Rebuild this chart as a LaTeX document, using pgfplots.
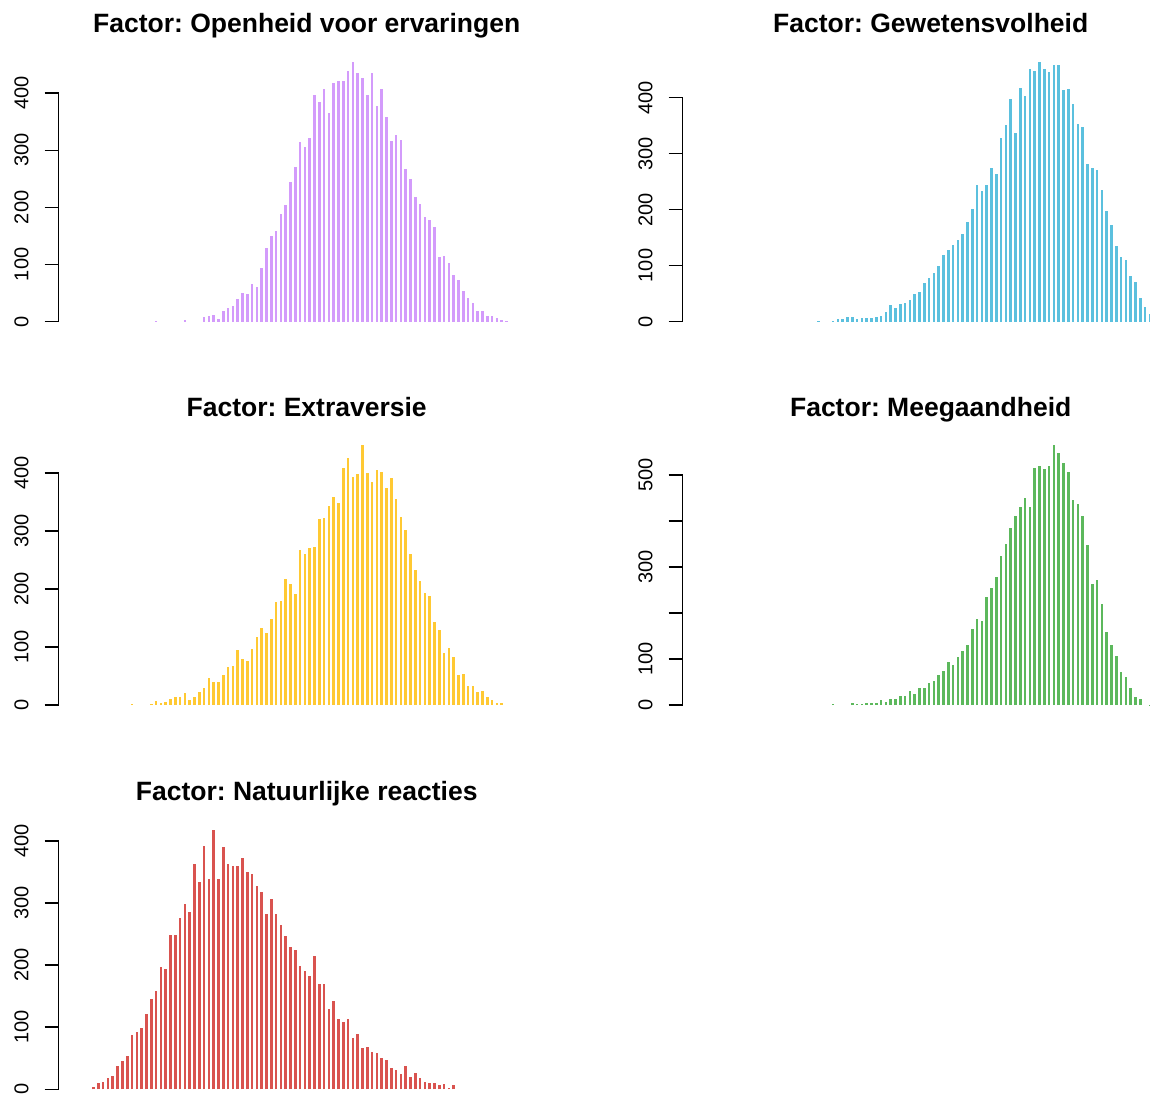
\documentclass[border=0pt]{standalone}
\usepackage{pgfplots}
\pgfplotsset{compat=1.18}
\usepackage{fontspec}
\setmainfont{Liberation Sans}
\frenchspacing
\definecolor{cpurple}{HTML}{D39BFB}
\definecolor{cblue}{HTML}{5BC0DE}
\definecolor{cyellow}{HTML}{FFC933}
\definecolor{cgreen}{HTML}{5CB85C}
\definecolor{cred}{HTML}{D9534F}
\pgfplotsset{
  panel/.style={
    scale only axis, width=248pt, height=140.25pt,
    anchor=south west, clip=false,
    hide x axis,
    axis line style={draw=none},
    ytick pos=left,
    tick align=outside,
    major tick length=7pt,
    major tick style={line width=0.75pt, black},
    yticklabel style={rotate=90, anchor=base, inner sep=0pt, font=\fontsize{10}{12}\selectfont},
    yticklabel shift=8.2pt,
    /pgf/number format/assume math mode=true,
    title style={at={(0.5,1)}, anchor=base, yshift=3.4pt, font=\bfseries\fontsize{13.25}{16}\selectfont},
    ytick={0,100,200,300,400},
    scaled y ticks=false,
  },
  bars/.style={ycomb, line width=1.3pt, mark=none},
}
\begin{document}
\begin{tikzpicture}
% Panel 1
\begin{axis}[panel, at={(29.35pt,-165.95pt)}, xmin=-30.27, xmax=73.06, ymin=-18.2, ymax=473.2,
  title={Factor: Openheid voor ervaringen}]
\addplot[bars, color=cpurple] coordinates {
(-10,1) (-4,3) (0,8) (1,9) (2,12) (3,5) (4,18) (5,24) (6,28) (7,40) (8,50) (9,49)
(10,66) (11,61) (12,93) (13,129) (14,150) (15,159) (16,188) (17,204) (18,244) (19,271)
(20,314) (21,306) (22,322) (23,396) (24,384) (25,408) (26,366) (27,418) (28,422) (29,422)
(30,439) (31,455) (32,435) (33,426) (34,397) (35,436) (36,378) (37,407) (38,358) (39,317)
(40,327) (41,318) (42,268) (43,250) (44,218) (45,206) (46,183) (47,177) (48,166) (49,113)
(50,115) (51,102) (52,82) (53,73) (54,53) (55,41) (56,33) (57,19) (58,19) (59,10)
(60,10) (61,7) (62,3) (63,1)};
\draw[line width=0.75pt, line cap=rect] (axis cs:-30.27,0) -- (axis cs:-30.27,400);
\end{axis}
% Panel 2
\begin{axis}[panel, at={(341.35pt,-165.95pt)}, xmin=-31.31, xmax=72.02, ymin=-18.56, ymax=482.56,
  title={Factor: Gewetensvolheid}]
\addplot[bars, color=cblue] coordinates {
(-3,1) (0,1) (1,4) (2,5) (3,8) (4,8) (5,4) (6,7) (7,6) (8,6) (9,8)
(10,9) (11,17) (12,29) (13,24) (14,32) (15,33) (16,38) (17,49) (18,53) (19,69)
(20,77) (21,86) (22,99) (23,119) (24,128) (25,137) (26,145) (27,156) (28,178) (29,201)
(30,243) (31,233) (32,243) (33,274) (34,264) (35,327) (36,351) (37,398) (38,336) (39,418)
(40,402) (41,452) (42,448) (43,464) (44,452) (45,445) (46,459) (47,458) (48,414) (49,416)
(50,389) (51,352) (52,347) (53,282) (54,275) (55,271) (56,235) (57,197) (58,172) (59,135)
(60,116) (61,110) (62,82) (63,70) (64,42) (65,26) (66,13)};
\draw[line width=0.75pt, line cap=rect] (axis cs:-31.31,0) -- (axis cs:-31.31,400);
\end{axis}
% Panel 3
\begin{axis}[panel, at={(29.35pt,-357.7pt)}, xmin=-30.27, xmax=73.06, ymin=-17.92, ymax=465.92,
  title={Factor: Extraversie}]
\addplot[bars, color=cyellow] coordinates {
(-15,1) (-11,1) (-10,7) (-9,4) (-8,6) (-7,10) (-6,14) (-5,14) (-4,20) (-3,9) (-2,14) (-1,23)
(0,29) (1,47) (2,40) (3,40) (4,52) (5,65) (6,68) (7,95) (8,79) (9,76)
(10,97) (11,117) (12,132) (13,125) (14,148) (15,178) (16,180) (17,218) (18,208) (19,191)
(20,267) (21,261) (22,271) (23,272) (24,321) (25,322) (26,344) (27,359) (28,348) (29,408)
(30,426) (31,393) (32,398) (33,448) (34,400) (35,384) (36,406) (37,402) (38,375) (39,391)
(40,355) (41,324) (42,302) (43,261) (44,233) (45,214) (46,194) (47,188) (48,144) (49,129)
(50,89) (51,98) (52,82) (53,52) (54,53) (55,33) (56,33) (57,23) (58,24) (59,13)
(60,8) (61,3) (62,3)};
\draw[line width=0.75pt, line cap=rect] (axis cs:-30.27,0) -- (axis cs:-30.27,400);
\end{axis}
% Panel 4
\begin{axis}[panel, at={(341.35pt,-357.7pt)}, xmin=-31.31, xmax=72.02, ymin=-22.56, ymax=586.56,
  title={Factor: Meegaandheid}, ytick={0,100,200,300,400,500}, yticklabels={0,100,,300,,500}]
\addplot[bars, color=cgreen] coordinates {
(0,2) (4,5) (5,2) (6,2) (7,5) (8,5) (9,4)
(10,11) (11,6) (12,13) (13,14) (14,20) (15,20) (16,31) (17,23) (18,38) (19,37)
(20,48) (21,53) (22,66) (23,73) (24,94) (25,88) (26,105) (27,118) (28,131) (29,165)
(30,186) (31,182) (32,235) (33,254) (34,277) (35,323) (36,350) (37,384) (38,410) (39,429)
(40,450) (41,431) (42,514) (43,520) (44,512) (45,520) (46,564) (47,548) (48,525) (49,505)
(50,446) (51,436) (52,410) (53,348) (54,262) (55,272) (56,220) (57,158) (58,131) (59,106)
(60,72) (61,60) (62,36) (63,17) (64,12) (66,1)};
\draw[line width=0.75pt, line cap=rect] (axis cs:-31.31,0) -- (axis cs:-31.31,500);
\end{axis}
% Panel 5
\begin{axis}[panel, at={(29.35pt,-549.85pt)}, xmin=-30.27, xmax=73.06, ymin=-16.72, ymax=434.72,
  title={Factor: Natuurlijke reacties}]
\addplot[bars, color=cred] coordinates {
(-23,3) (-22,10) (-21,11) (-20,18) (-19,21) (-18,37) (-17,45) (-16,54) (-15,87) (-14,93)
(-13,99) (-12,122) (-11,146) (-10,159) (-9,197) (-8,193) (-7,249) (-6,249) (-5,276) (-4,298)
(-3,285) (-2,362) (-1,333) (0,391) (1,338) (2,418) (3,338) (4,390) (5,362) (6,359)
(7,360) (8,373) (9,350) (10,346) (11,328) (12,318) (13,282) (14,306) (15,282) (16,265)
(17,246) (18,229) (19,225) (20,199) (21,191) (22,183) (23,215) (24,170) (25,170) (26,130)
(27,142) (28,113) (29,109) (30,113) (31,83) (32,89) (33,67) (34,68) (35,60) (36,59)
(37,51) (38,48) (39,35) (40,31) (41,24) (42,38) (43,20) (44,26) (45,19) (46,11)
(47,10) (48,10) (49,7) (50,9) (51,2) (52,7)};
\draw[line width=0.75pt, line cap=rect] (axis cs:-30.27,0) -- (axis cs:-30.27,400);
\end{axis}
\pgfresetboundingbox
\path[use as bounding box] (0pt,0pt) rectangle (575pt,-546.5pt);
\end{tikzpicture}
\end{document}
